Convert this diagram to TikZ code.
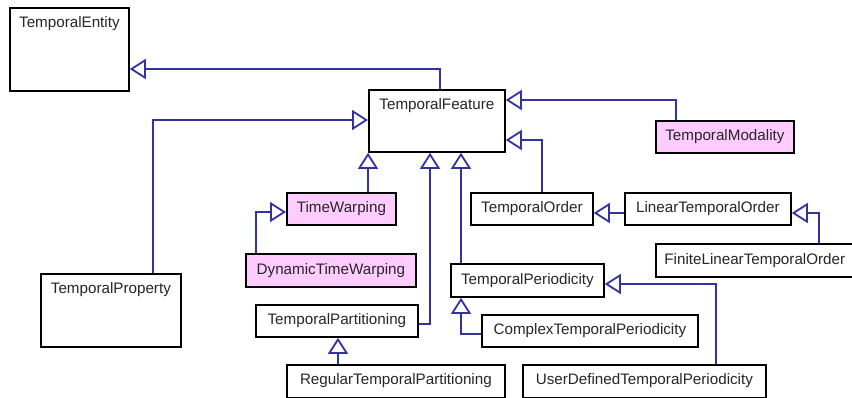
\documentclass[tikz,border=0pt]{standalone}
\usepackage{fontspec}
\setmainfont{Liberation Sans}
\usetikzlibrary{arrows.meta,calc}
\definecolor{umlblue}{RGB}{51,51,160}
\definecolor{umlpink}{RGB}{255,204,255}
\tikzset{
  cls/.style={draw=black, line width=1.8pt, fill=white, anchor=north west, inner sep=2pt,
    font=\fontsize{15.2}{17}\selectfont, text=black!85},
  pinkcls/.style={cls, fill=umlpink},
  toplbl/.style={anchor=north, yshift=-6pt, inner sep=3pt, font=\fontsize{15.2}{17}\selectfont, text=black!85},
  gen/.style={draw=umlblue, line width=1.8pt,
    -{Triangle[open, length=16pt, width=20pt, fill=white, line width=1.8pt]}},
}
\begin{document}
\begin{tikzpicture}[x=1pt, y=-1pt]
\useasboundingbox (0,0) rectangle (852,397);
\fill[white] (0,0) rectangle (852,397);
\clip (0,0) rectangle (852,397);
% boxes
\node[cls, minimum width=119pt, minimum height=83pt, label={[toplbl]north:TemporalEntity}] (entity) at (9,7) {};
\node[cls, minimum width=136pt, minimum height=62pt, label={[toplbl]north:TemporalFeature}] (feature) at (368,89) {};
\node[pinkcls, minimum width=138pt, minimum height=32pt] (modality) at (655,120) {TemporalModality};
\node[cls, minimum width=140pt, minimum height=73pt, label={[toplbl]north:TemporalProperty}] (property) at (40,273) {};
\node[pinkcls, minimum width=109pt, minimum height=32pt] (timewarp) at (286,192) {TimeWarping};
\node[pinkcls, minimum width=170pt, minimum height=33pt] (dtw) at (245,253) {DynamicTimeWarping};
\node[cls, minimum width=162pt, minimum height=32pt] (tpart) at (255,304) {TemporalPartitioning};
\node[cls, minimum width=218pt, minimum height=33pt, text depth=5pt] (rtp) at (286,364) {RegularTemporalPartitioning};
\node[cls, minimum width=122pt, minimum height=32pt] (torder) at (470,192) {TemporalOrder};
\node[cls, minimum width=166pt, minimum height=32pt] (lto) at (624,192) {LinearTemporalOrder};
\node[cls, minimum width=212pt, minimum height=33pt, text width=195pt, align=left] (flto) at (655,243) {FiniteLinearTemporalOrder};
\node[cls, minimum width=153pt, minimum height=33pt] (tper) at (450,263) {TemporalPeriodicity};
\node[cls, minimum width=216pt, minimum height=32pt] (ctp) at (481,314) {ComplexTemporalPeriodicity};
\node[cls, minimum width=243pt, minimum height=33pt, text depth=5pt] (udtp) at (522,364) {UserDefinedTemporalPeriodicity};
% connectors
\draw[gen] ($(feature.north west)+(72,0)$) |- ($(entity.north east)+(0,62)$);
\draw[gen] ($(property.north west)+(113,0)$) |- ($(feature.north west)+(0,31)$);
\draw[gen] ($(modality.north west)+(21,0)$) |- ($(feature.north east)+(0,11)$);
\draw[gen] ($(torder.north west)+(72,0)$) |- ($(feature.north east)+(0,51)$);
\draw[gen] ($(timewarp.north west)+(82,0)$) -- ($(feature.south west)+(0,0)$);
\draw[gen] ($(tpart.north east)+(0,20)$) -| ($(feature.south west)+(62,0)$);
\draw[gen] ($(tper.north west)+(11,0)$) -- ($(feature.south west)+(93,0)$);
\draw[gen] ($(dtw.north west)+(11,0)$) |- ($(timewarp.north west)+(0,20)$);
\draw[gen] ($(rtp.north west)+(52,0)$) -- ($(tpart.south west)+(83,0)$);
\draw[gen] ($(lto.north west)+(0,21)$) -- ($(torder.north east)+(0,21)$);
\draw[gen] ($(flto.north west)+(164,0)$) |- ($(lto.north east)+(0,21)$);
\draw[gen] ($(ctp.north west)+(0,20)$) -| ($(tper.south west)+(11,0)$);
\draw[gen] ($(udtp.north west)+(194,0)$) |- ($(tper.north east)+(0,21)$);
\end{tikzpicture}
\end{document}
